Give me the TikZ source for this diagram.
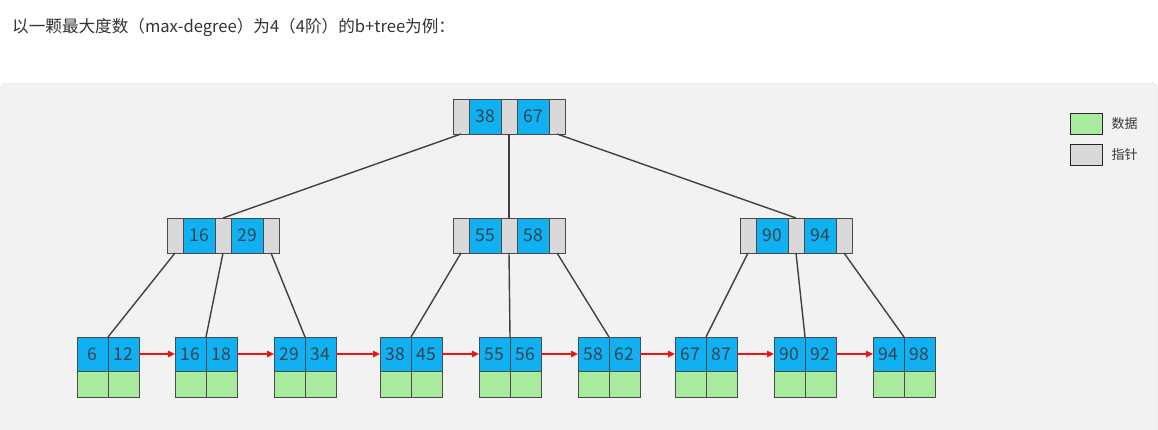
\documentclass[tikz,border=0pt]{standalone}
\usepackage{fontspec}
\setmainfont{Noto Sans CJK SC}
\usepackage{tikz}
\usetikzlibrary{arrows.meta,positioning}

\definecolor{panelbg}{HTML}{F2F2F2}
\definecolor{panelline}{HTML}{E3E3E3}
\definecolor{ptrgrey}{HTML}{D9D9D9}
\definecolor{keyblue}{HTML}{0FB1F2}
\definecolor{datgreen}{HTML}{A8EA9E}
\definecolor{cellline}{HTML}{4A4A4A}
\definecolor{keytext}{HTML}{36434F}
\definecolor{treegrey}{HTML}{404040}
\definecolor{linkred}{HTML}{EE1414}
\definecolor{titletext}{HTML}{333333}

\begin{document}
\begin{tikzpicture}[
    x=1pt, y=-1pt,
    ptr/.style={rectangle, draw=cellline, fill=ptrgrey, line width=0.6pt, inner sep=0pt, outer sep=0pt, minimum width=16pt, minimum height=35pt},
    key/.style={ptr, fill=keyblue, minimum width=32pt, text=keytext, font=\fontsize{17.5}{19}\selectfont},
    lkey/.style={key, minimum width=31pt, minimum height=34pt},
    dat/.style={rectangle, draw=cellline, fill=datgreen, line width=0.6pt, inner sep=0pt, outer sep=0pt, minimum width=31pt, minimum height=26pt},
    treeline/.style={draw=treegrey, line width=1.4pt},
    link/.style={-{Triangle[length=7pt,width=6.5pt]}, draw=linkred, line width=1.3pt},
    legendbox/.style={rectangle, draw=black!85, line width=0.7pt, minimum width=32pt, minimum height=21pt, inner sep=0pt}
]
\useasboundingbox (0,0) rectangle (1158,430);
\fill[white] (0,0) rectangle (1158,430);
\filldraw[fill=panelbg, draw=panelline, rounded corners=6pt] (0.5,83) rectangle (1157.5,440);

\node[anchor=west, text=titletext, font=\fontsize{16.6}{19}\selectfont, inner sep=0pt] (title) at (12,27) {以一颗最大度数（max-degree）为4（4阶）的b+tree为例：};

% root
\node[ptr] (rp1) at (461,116.5) {};
\node[key, right=0pt of rp1] (rk1) {38};
\node[ptr, right=0pt of rk1] (rp2) {};
\node[key, right=0pt of rp2] (rk2) {67};
\node[ptr, right=0pt of rk2] (rp3) {};

% second level
\node[ptr] (ap1) at (175,235.5) {};
\node[key, right=0pt of ap1] (ak1) {16};
\node[ptr, right=0pt of ak1] (ap2) {};
\node[key, right=0pt of ap2] (ak2) {29};
\node[ptr, right=0pt of ak2] (ap3) {};

\node[ptr] (bp1) at (461,235.5) {};
\node[key, right=0pt of bp1] (bk1) {55};
\node[ptr, right=0pt of bk1] (bp2) {};
\node[key, right=0pt of bp2] (bk2) {58};
\node[ptr, right=0pt of bk2] (bp3) {};

\node[ptr] (cp1) at (748,235.5) {};
\node[key, right=0pt of cp1] (ck1) {90};
\node[ptr, right=0pt of ck1] (cp2) {};
\node[key, right=0pt of cp2] (ck2) {94};
\node[ptr, right=0pt of ck2] (cp3) {};

% leaves
\node[lkey] (l1a) at (92.5,354) {6};  \node[lkey, right=0pt of l1a] (l1b) {12};
\node[dat, below=0pt of l1a] (l1c) {}; \node[dat, below=0pt of l1b] (l1d) {};
\node[lkey] (l2a) at (190.5,354) {16}; \node[lkey, right=0pt of l2a] (l2b) {18};
\node[dat, below=0pt of l2a] (l2c) {}; \node[dat, below=0pt of l2b] (l2d) {};
\node[lkey] (l3a) at (289.5,354) {29}; \node[lkey, right=0pt of l3a] (l3b) {34};
\node[dat, below=0pt of l3a] (l3c) {}; \node[dat, below=0pt of l3b] (l3d) {};
\node[lkey] (l4a) at (395.5,354) {38}; \node[lkey, right=0pt of l4a] (l4b) {45};
\node[dat, below=0pt of l4a] (l4c) {}; \node[dat, below=0pt of l4b] (l4d) {};
\node[lkey] (l5a) at (494.5,354) {55}; \node[lkey, right=0pt of l5a] (l5b) {56};
\node[dat, below=0pt of l5a] (l5c) {}; \node[dat, below=0pt of l5b] (l5d) {};
\node[lkey] (l6a) at (593.5,354) {58}; \node[lkey, right=0pt of l6a] (l6b) {62};
\node[dat, below=0pt of l6a] (l6c) {}; \node[dat, below=0pt of l6b] (l6d) {};
\node[lkey] (l7a) at (690.5,354) {67}; \node[lkey, right=0pt of l7a] (l7b) {87};
\node[dat, below=0pt of l7a] (l7c) {}; \node[dat, below=0pt of l7b] (l7d) {};
\node[lkey] (l8a) at (789.5,354) {90}; \node[lkey, right=0pt of l8a] (l8b) {92};
\node[dat, below=0pt of l8a] (l8c) {}; \node[dat, below=0pt of l8b] (l8d) {};
\node[lkey] (l9a) at (888.5,354) {94}; \node[lkey, right=0pt of l9a] (l9b) {98};
\node[dat, below=0pt of l9a] (l9c) {}; \node[dat, below=0pt of l9b] (l9d) {};

% legend
\node[legendbox, fill=datgreen] (lgdat) at (1086,124) {};
\node[right=9pt of lgdat, font=\fontsize{13}{15}\selectfont, text=titletext, inner sep=0pt] (lgdattext) {数据};
\node[legendbox, fill=ptrgrey] (lgptr) at (1086,155) {};
\node[right=9pt of lgptr, font=\fontsize{13}{15}\selectfont, text=titletext, inner sep=0pt] (lgptrtext) {指针};

% tree lines
\draw[treeline] (rp1.south) -- (ap2.north);
\draw[treeline] (rp2.south) -- (bp2.north);
\draw[treeline] (rp3.south) -- (cp2.north);
\draw[treeline] (ap1.south) -- (l1a.north east);
\draw[treeline] (ap2.south) -- (l2a.north east);
\draw[treeline] (ap3.south) -- (l3a.north east);
\draw[treeline] (bp1.south) -- (l4a.north east);
\draw[treeline] (bp2.south) -- (l5a.north east);
\draw[treeline] (bp3.south) -- (l6a.north east);
\draw[treeline] (cp1.south) -- (l7a.north east);
\draw[treeline] (cp2.south) -- (l8a.north east);
\draw[treeline] (cp3.south) -- (l9a.north east);

% leaf links
\draw[link] (l1b.east) -- (l2a.west);
\draw[link] (l2b.east) -- (l3a.west);
\draw[link] (l3b.east) -- (l4a.west);
\draw[link] (l4b.east) -- (l5a.west);
\draw[link] (l5b.east) -- (l6a.west);
\draw[link] (l6b.east) -- (l7a.west);
\draw[link] (l7b.east) -- (l8a.west);
\draw[link] (l8b.east) -- (l9a.west);
\end{tikzpicture}
\end{document}
